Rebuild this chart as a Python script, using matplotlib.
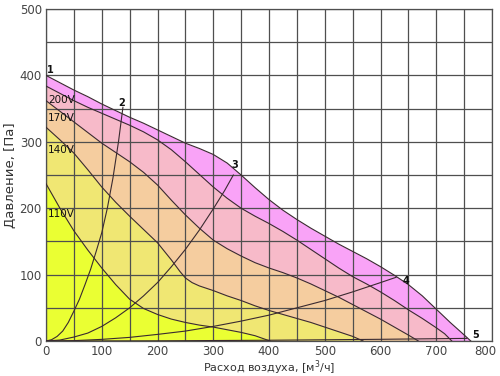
import matplotlib
matplotlib.use("Agg")
import matplotlib.pyplot as plt
import matplotlib.transforms as mtransforms

# fan curves (flow m3/h, pressure Pa)
top_x = [0, 25, 50, 75, 100, 125, 150, 175, 200, 225, 250, 275, 300, 325, 350, 375, 400,
         425, 450, 475, 500, 525, 550, 575, 600, 625, 650, 675, 700, 725, 745, 762]
top_y = [400, 389, 378, 368, 357, 347, 337, 328, 318, 308, 298, 290, 281, 268, 250, 231, 213,
         197, 183, 170, 158, 146, 135, 124, 112, 99, 85, 68, 48, 28, 13, 0]

v200_x = [0, 25, 50, 75, 100, 125, 150, 175, 200, 225, 250, 275, 300, 325, 350, 375, 400,
          425, 450, 475, 500, 525, 550, 575, 600, 625, 650, 675, 700, 715, 728]
v200_y = [384, 373, 362, 352, 343, 334, 325, 315, 303, 288, 270, 251, 232, 215, 200, 188, 177,
          165, 152, 138, 124, 110, 97, 86, 74, 61, 47, 34, 20, 11, 0]

v170_x = [0, 25, 50, 75, 100, 125, 150, 175, 200, 225, 250, 275, 300, 325, 350, 375, 400,
          425, 450, 475, 500, 525, 550, 575, 600, 625, 650, 668]
v170_y = [362, 346, 330, 314, 298, 284, 270, 254, 235, 212, 190, 170, 152, 139, 128, 118, 110,
          103, 95, 86, 76, 66, 55, 44, 33, 21, 9, 0]

v140_x = [0, 25, 50, 75, 100, 125, 150, 175, 200, 225, 240, 250, 262, 275, 300, 325, 350,
          375, 400, 425, 450, 475, 500, 525, 550, 569]
v140_y = [322, 303, 283, 258, 232, 209, 188, 168, 148, 122, 105, 95, 88, 83, 76, 68, 61,
          53, 46, 40, 34, 28, 21, 14, 7, 0]

v110_x = [0, 25, 50, 75, 100, 125, 150, 175, 200, 225, 250, 275, 300, 325, 350, 375, 402]
v110_y = [237, 200, 166, 137, 110, 85, 63, 49, 40, 33, 28, 24, 21, 17, 13, 8, 0]

# system curves 2..5
s2_x = [0, 10, 20, 30, 40, 50, 60, 70, 80, 90, 100, 110, 120, 130, 138]
s2_y = [0, 2, 7, 15, 28, 45, 63, 85, 108, 135, 163, 200, 245, 300, 352]
s3_x = [0, 25, 50, 75, 100, 125, 150, 175, 200, 225, 250, 275, 300, 320, 336]
s3_y = [0, 1.5, 6, 12, 22, 35, 50, 68, 88, 112, 138, 167, 199, 226, 250]
s4_x = [0, 50, 100, 150, 200, 250, 300, 350, 400, 450, 500, 550, 600, 628]
s4_y = [0, 0.6, 2.5, 5.5, 10, 15, 22, 30, 39, 50, 61, 74, 88, 96]
s5_x = [0, 200, 400, 600, 755]
s5_y = [0, 0.3, 1.2, 2.6, 4]

bands = [(top_x, top_y, "#f9a3f7"),
         (v200_x, v200_y, "#f7bac9"),
         (v170_x, v170_y, "#f5cd9f"),
         (v140_x, v140_y, "#f0e773"),
         (v110_x, v110_y, "#eaff33")]

volt_labels = ["200V", "170V", "140V", "110V"]
volt_y = [363, 336, 288, 191]
num_labels = ["1", "2", "3", "4", "5"]
num_x = [7, 135, 339, 645, 770]
num_y = [408, 358, 265, 90, 9]

fig = plt.figure(figsize=(5, 3.76), dpi=100)
ax = fig.add_axes([0.092, 0.093, 0.892, 0.883])

for x, y, c in bands:
    ax.fill_between(x, y, 0, color=c, lw=0, zorder=1)
for x, y, c in bands:
    ax.plot(x, y, color="#3a2a30", lw=0.8, zorder=3)
for x, y in [(s2_x, s2_y), (s3_x, s3_y), (s4_x, s4_y), (s5_x, s5_y)]:
    ax.plot(x, y, color="#3a2a30", lw=0.8, zorder=3)

for t, yy in zip(volt_labels, volt_y):
    ax.text(4, yy, t, fontsize=7.5, color="#111111", va="center", ha="left", zorder=4)
for t, xx, yy in zip(num_labels, num_x, num_y):
    ax.text(xx, yy, t, fontsize=7, fontweight="bold", color="#111111",
            va="center", ha="center", zorder=4)

ax.set_xlim(0, 800)
ax.set_ylim(0, 500)
ax.set_xticks(range(0, 801, 50))
ax.set_yticks(range(0, 501, 50))
ax.set_xticklabels([str(v) if v % 100 == 0 else "" for v in range(0, 801, 50)])
ax.set_yticklabels([str(v) if v % 100 == 0 else "" for v in range(0, 501, 50)])
ax.tick_params(length=0, labelsize=8.5, labelcolor="#444444", pad=3)
ax.grid(True, color="#4f4f4f", lw=0.9, zorder=2)
ax.set_axisbelow(False)
for s in ax.spines.values():
    s.set_color("#4f4f4f")
    s.set_linewidth(0.9)

# keep "800" inside the picture
last = ax.get_xticklabels()[-1]
last.set_transform(last.get_transform() +
                   mtransforms.ScaledTranslation(-5 / 72, 0, fig.dpi_scale_trans))

ax.set_xlabel("Расход воздуха, [м$^3$/ч]", fontsize=8, color="#333333", labelpad=0)
ax.set_ylabel("Давление, [Па]", fontsize=9.5, color="#333333", labelpad=2)

fig.savefig("out.png", dpi=100)
